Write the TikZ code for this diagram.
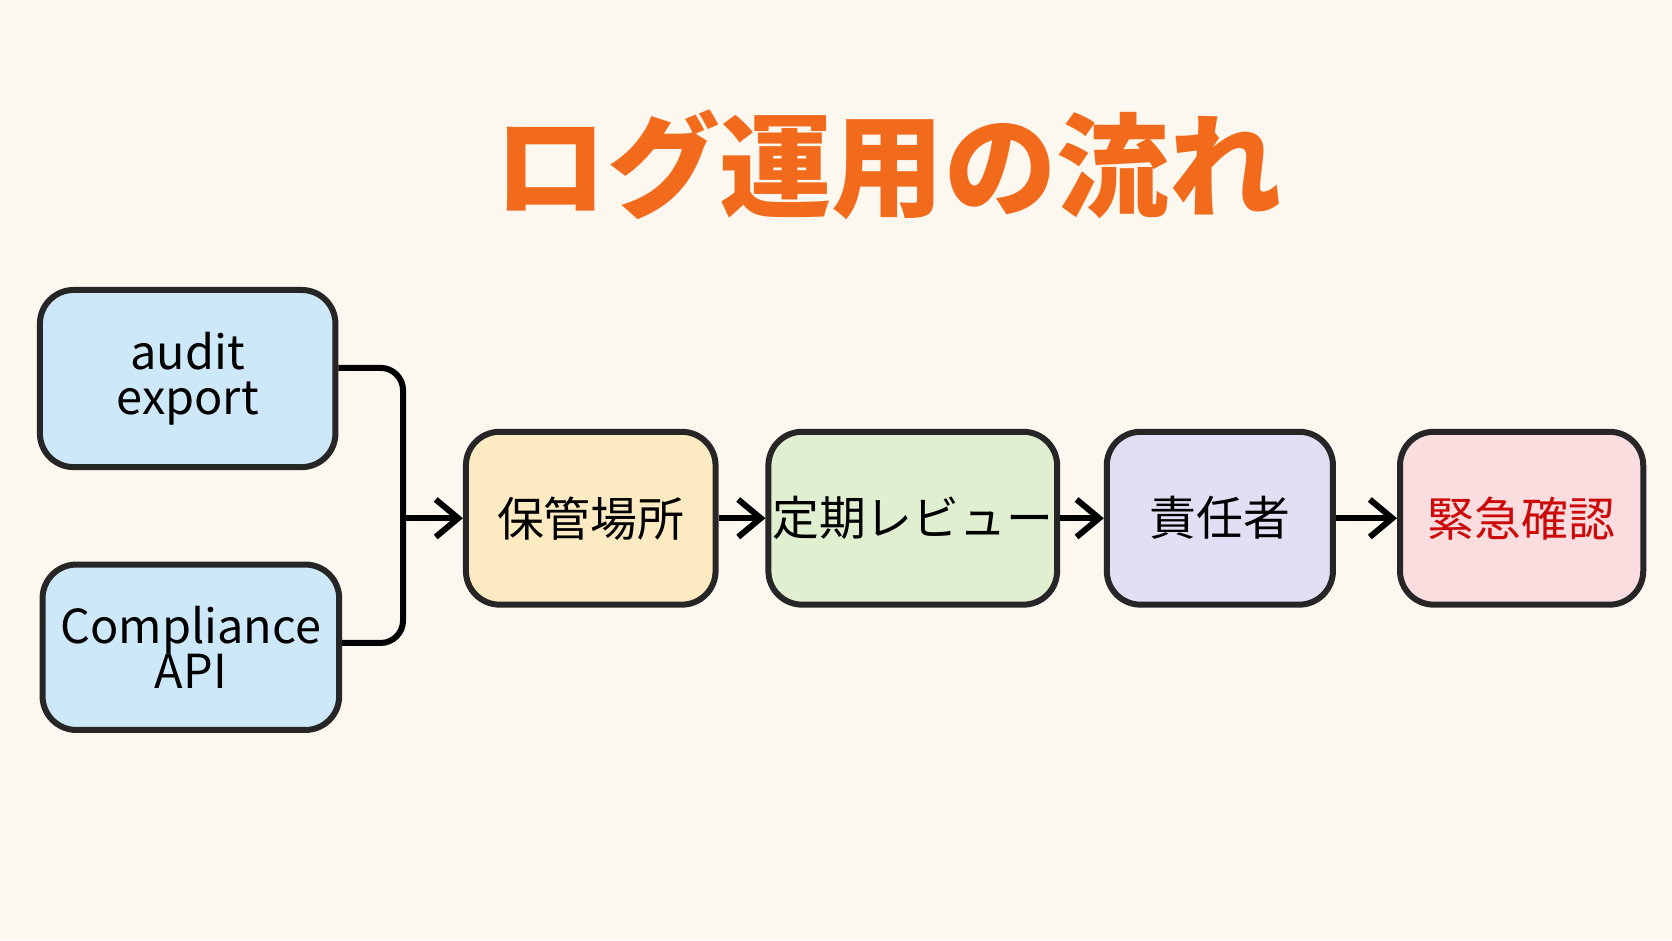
\documentclass[tikz,border=0pt]{standalone}
\usepackage{fontspec}
\setmainfont{Noto Sans CJK JP}
\usepackage{tikz}
\usetikzlibrary{arrows.meta, positioning}
\definecolor{bgcream}{HTML}{FCF8F0}
\definecolor{titleorange}{HTML}{F26B1D}
\definecolor{srcblue}{HTML}{CDE8F8}
\definecolor{storeyellow}{HTML}{FCEBC2}
\definecolor{reviewgreen}{HTML}{E0EFCF}
\definecolor{ownerpurple}{HTML}{E4DEF5}
\definecolor{alertpink}{HTML}{FBDDE0}
\definecolor{alertred}{HTML}{CC0A0A}

\begin{document}
\begin{tikzpicture}[x=0.01cm, y=-0.01cm,
    box/.style={draw=black!85, line width=1.6pt, rounded corners=9pt, align=center,
      inner sep=1pt, font=\fontsize{12.5}{15}\selectfont},
    flow/.style={line width=1.6pt, -{Straight Barb[length=6pt,width=10pt]}, rounded corners=6pt}]
    % Background
    \fill[bgcream] (0,0) rectangle (1568,882);
    \useasboundingbox (0,0) rectangle (1568,882);

    % Title
    \node[text=titleorange, font=\fontsize{30}{34}\selectfont\bfseries] (title) at (833,155) {ログ運用の流れ};

    % Sources
    \node[box, fill=srcblue, minimum width=2.77cm, minimum height=1.66cm] (audit) at (176,355) {audit\\[-3pt]export};
    \node[box, fill=srcblue, minimum width=2.78cm, minimum height=1.55cm] (comp) at (179,607) {Compliance\\[-3pt]API};

    % Flow
    \node[box, fill=storeyellow, minimum width=2.34cm, minimum height=1.62cm] (store) at (554,486) {保管場所};
    \node[box, fill=reviewgreen, minimum width=2.37cm, minimum height=1.62cm] (review) at (856,486) {定期レビュー};
    \node[box, fill=ownerpurple, minimum width=2.12cm, minimum height=1.62cm] (owner) at (1144,486) {責任者};
    \node[box, fill=alertpink, minimum width=2.28cm, minimum height=1.62cm, text=alertred] (alert) at (1427,486) {緊急確認};

    % Connectors
    \coordinate (join) at (378,486);
    \draw[line width=1.6pt, rounded corners=6pt] (audit.east |- 0,345) -| (join);
    \draw[line width=1.6pt, rounded corners=6pt] (comp.east |- 0,603) -| (join);
    \draw[flow] (join) -- (store);
    \draw[flow] (store) -- (review);
    \draw[flow] (review) -- (owner);
    \draw[flow] (owner) -- (alert);
\end{tikzpicture}
\end{document}
